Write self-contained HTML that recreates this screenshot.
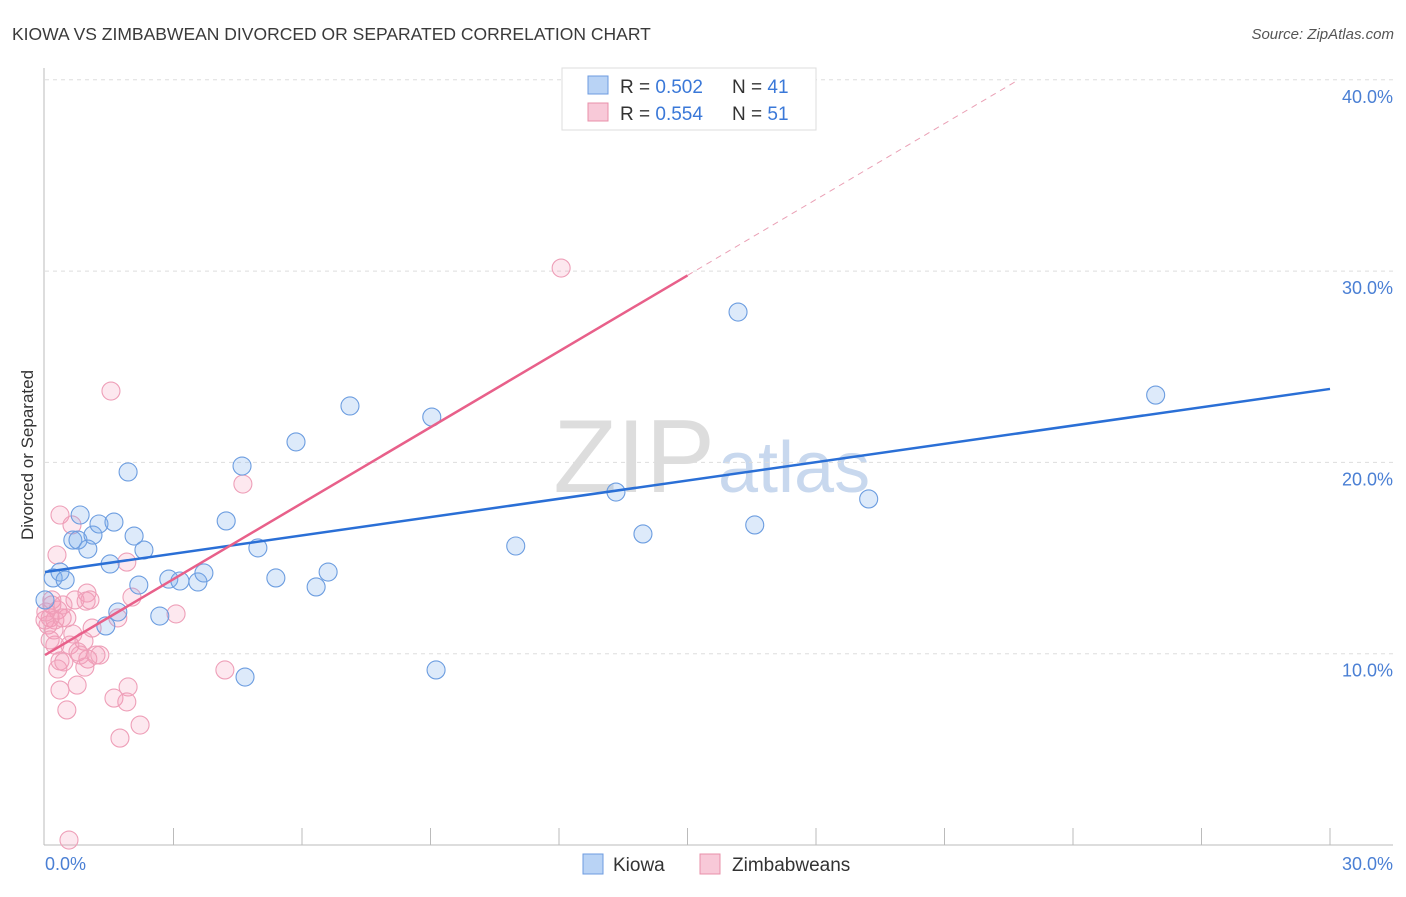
<!DOCTYPE html>
<html><head><meta charset="utf-8"><style>
body{margin:0;background:#fff;font-family:"Liberation Sans",sans-serif;}
svg text{font-family:"Liberation Sans",sans-serif;}
</style></head><body>
<svg id="c" width="1406" height="892">
<text x="12" y="40" font-size="17.5" fill="#3a3a3a">KIOWA VS ZIMBABWEAN DIVORCED OR SEPARATED CORRELATION CHART</text>
<text x="1394" y="39" font-size="15" fill="#555" font-style="italic" text-anchor="end">Source: ZipAtlas.com</text>
<text x="715" y="492" font-size="104" fill="#ddd" text-anchor="end" font-family="Liberation Serif">ZIP</text>
<text x="718" y="492" font-size="72" fill="#c8d8ee">atlas</text>
<text transform="translate(33,455) rotate(-90)" font-size="17" fill="#333" text-anchor="middle">Divorced or Separated</text>
<g id="grid"></g><g id="pts"></g><g id="lines"></g>
<g>
<rect x="562" y="68" width="254" height="62" fill="#fff" stroke="#ddd"/>
<rect x="588" y="76" width="20" height="18" fill="#b9d3f5" stroke="#6d9be0"/>
<rect x="588" y="103" width="20" height="18" fill="#f8c9d8" stroke="#e890aa"/>
<text x="620" y="93" font-size="19" fill="#333">R = <tspan fill="#3a78d8">0.502</tspan><tspan x="732">N = </tspan><tspan fill="#3a78d8">41</tspan></text>
<text x="620" y="120" font-size="19" fill="#333">R = <tspan fill="#3a78d8">0.554</tspan><tspan x="732">N = </tspan><tspan fill="#3a78d8">51</tspan></text>
</g>
<g>
<rect x="583" y="854" width="20" height="20" fill="#b9d3f5" stroke="#6d9be0"/>
<text x="613" y="871" font-size="19" fill="#333">Kiowa</text>
<rect x="700" y="854" width="20" height="20" fill="#f8c9d8" stroke="#e890aa"/>
<text x="732" y="871" font-size="19" fill="#333">Zimbabweans</text>
</g>
</svg>
<script>
const yTicks=[10,20,30,40];
const yTickLabels=["10.0%","20.0%","30.0%","40.0%"];
const xTickLabels=["0.0%","30.0%"];
const kiowaX=[0.19,0.35,0.47,0.65,0.82,0.77,1.00,1.12,1.26,1.42,1.52,1.61,1.70,1.94,2.08,2.19,2.31,2.68,2.89,3.15,3.57,3.71,4.23,4.60,4.67,4.97,5.39,5.86,6.33,6.61,7.12,9.03,9.13,10.99,13.33,13.96,16.18,16.57,19.23,25.93,0.0];
const kiowaY=[13.96,14.27,13.85,15.94,17.25,15.94,15.47,16.20,16.78,11.45,14.69,16.88,12.18,19.50,16.15,13.59,15.42,11.97,13.90,13.80,13.75,14.22,16.94,19.81,8.78,15.53,13.96,21.07,13.49,14.27,22.95,22.37,9.15,15.63,18.45,16.26,27.86,16.73,18.09,23.52,12.81];
const zimX=[0.35,0.63,0.28,1.54,12.05,4.62,1.91,0.98,2.03,3.06,4.20,0.96,0.30,0.16,0.12,0.23,0.40,0.51,0.0,0.07,1.10,0.65,0.58,0.23,0.91,0.77,1.19,1.00,0.35,0.30,0.44,0.82,0.93,0.35,0.75,1.94,1.61,1.91,0.51,2.22,1.75,0.56,1.70,0.16,0.02,0.21,0.70,1.05,1.28,0.42,0.12];
const zimY=[17.25,16.73,15.16,23.73,30.16,18.87,14.79,13.17,12.96,12.08,9.15,12.75,12.28,12.55,11.87,11.76,11.87,11.87,11.76,11.50,11.34,11.03,10.45,10.45,10.66,10.09,9.93,9.72,9.62,9.20,9.57,9.93,9.30,8.10,8.36,8.26,7.68,7.48,7.06,6.27,5.59,0.26,11.87,12.81,12.18,11.24,12.81,12.81,9.93,12.55,10.72];
const kiowaTrend=[14.27,23.84];
const zimTrend=[9.93,1.323];
const NS="http://www.w3.org/2000/svg";
const X=v=>45+v/30*1285, Y=v=>845-v*19.13;
function mk(t,a,p){const e=document.createElementNS(NS,t);for(const k in a)e.setAttribute(k,a[k]);p.appendChild(e);return e;}
const grid=document.getElementById('grid'),pts=document.getElementById('pts'),lines=document.getElementById('lines');
yTicks.forEach((v,i)=>{
 const l=mk('line',{x1:45,x2:1393,y1:Y(v),y2:Y(v),stroke:'#ddd','stroke-dasharray':'4,4'},grid);
 
 
 const t=mk('text',{x:1393,y:Y(v)+23,'font-size':18,fill:'#4a7fd4','text-anchor':'end'},grid);t.textContent=yTickLabels[i];
 
 
});
mk('line',{x1:44,x2:44,y1:68,y2:845,stroke:'#bbb'},grid);
mk('line',{x1:44,x2:1393,y1:845,y2:845,stroke:'#bbb'},grid);
for(let i=1;i<=10;i++){const x=X(i*3);const tk=mk('line',{x1:x,x2:x,y1:828,y2:845,stroke:'#bbb'},grid);
 
 }
let t0=mk('text',{x:45,y:870,'font-size':18,fill:'#4a7fd4'},grid);t0.textContent=xTickLabels[0];


let t1=mk('text',{x:1393,y:870,'font-size':18,fill:'#4a7fd4','text-anchor':'end'},grid);t1.textContent=xTickLabels[1];


zimX.forEach((x,i)=>{const c=mk('circle',{cx:X(x),cy:Y(zimY[i]),r:9,fill:'rgba(244,150,180,0.22)',stroke:'#ee9fb8','stroke-width':1.1},pts);
 
 });
kiowaX.forEach((x,i)=>{const c=mk('circle',{cx:X(x),cy:Y(kiowaY[i]),r:9,fill:'rgba(120,170,235,0.25)',stroke:'#6c9de0','stroke-width':1.1},pts);
 
 });
const kl=mk('line',{x1:X(0),y1:Y(kiowaTrend[0]),x2:X(30),y2:Y(kiowaTrend[1]),stroke:'#2a6fd6','stroke-width':2.5},lines);


const xEnd=15.0,xDash=(40-zimTrend[0])/zimTrend[1];
const zl=mk('line',{x1:X(0),y1:Y(zimTrend[0]),x2:X(xEnd),y2:Y(zimTrend[0]+zimTrend[1]*xEnd),stroke:'#e8608a','stroke-width':2.5},lines);


const zd=mk('line',{x1:X(xEnd),y1:Y(zimTrend[0]+zimTrend[1]*xEnd),x2:X(xDash),y2:Y(40),stroke:'#eaa0b5','stroke-width':1,'stroke-dasharray':'6,5'},lines);


</script>
</body></html>
